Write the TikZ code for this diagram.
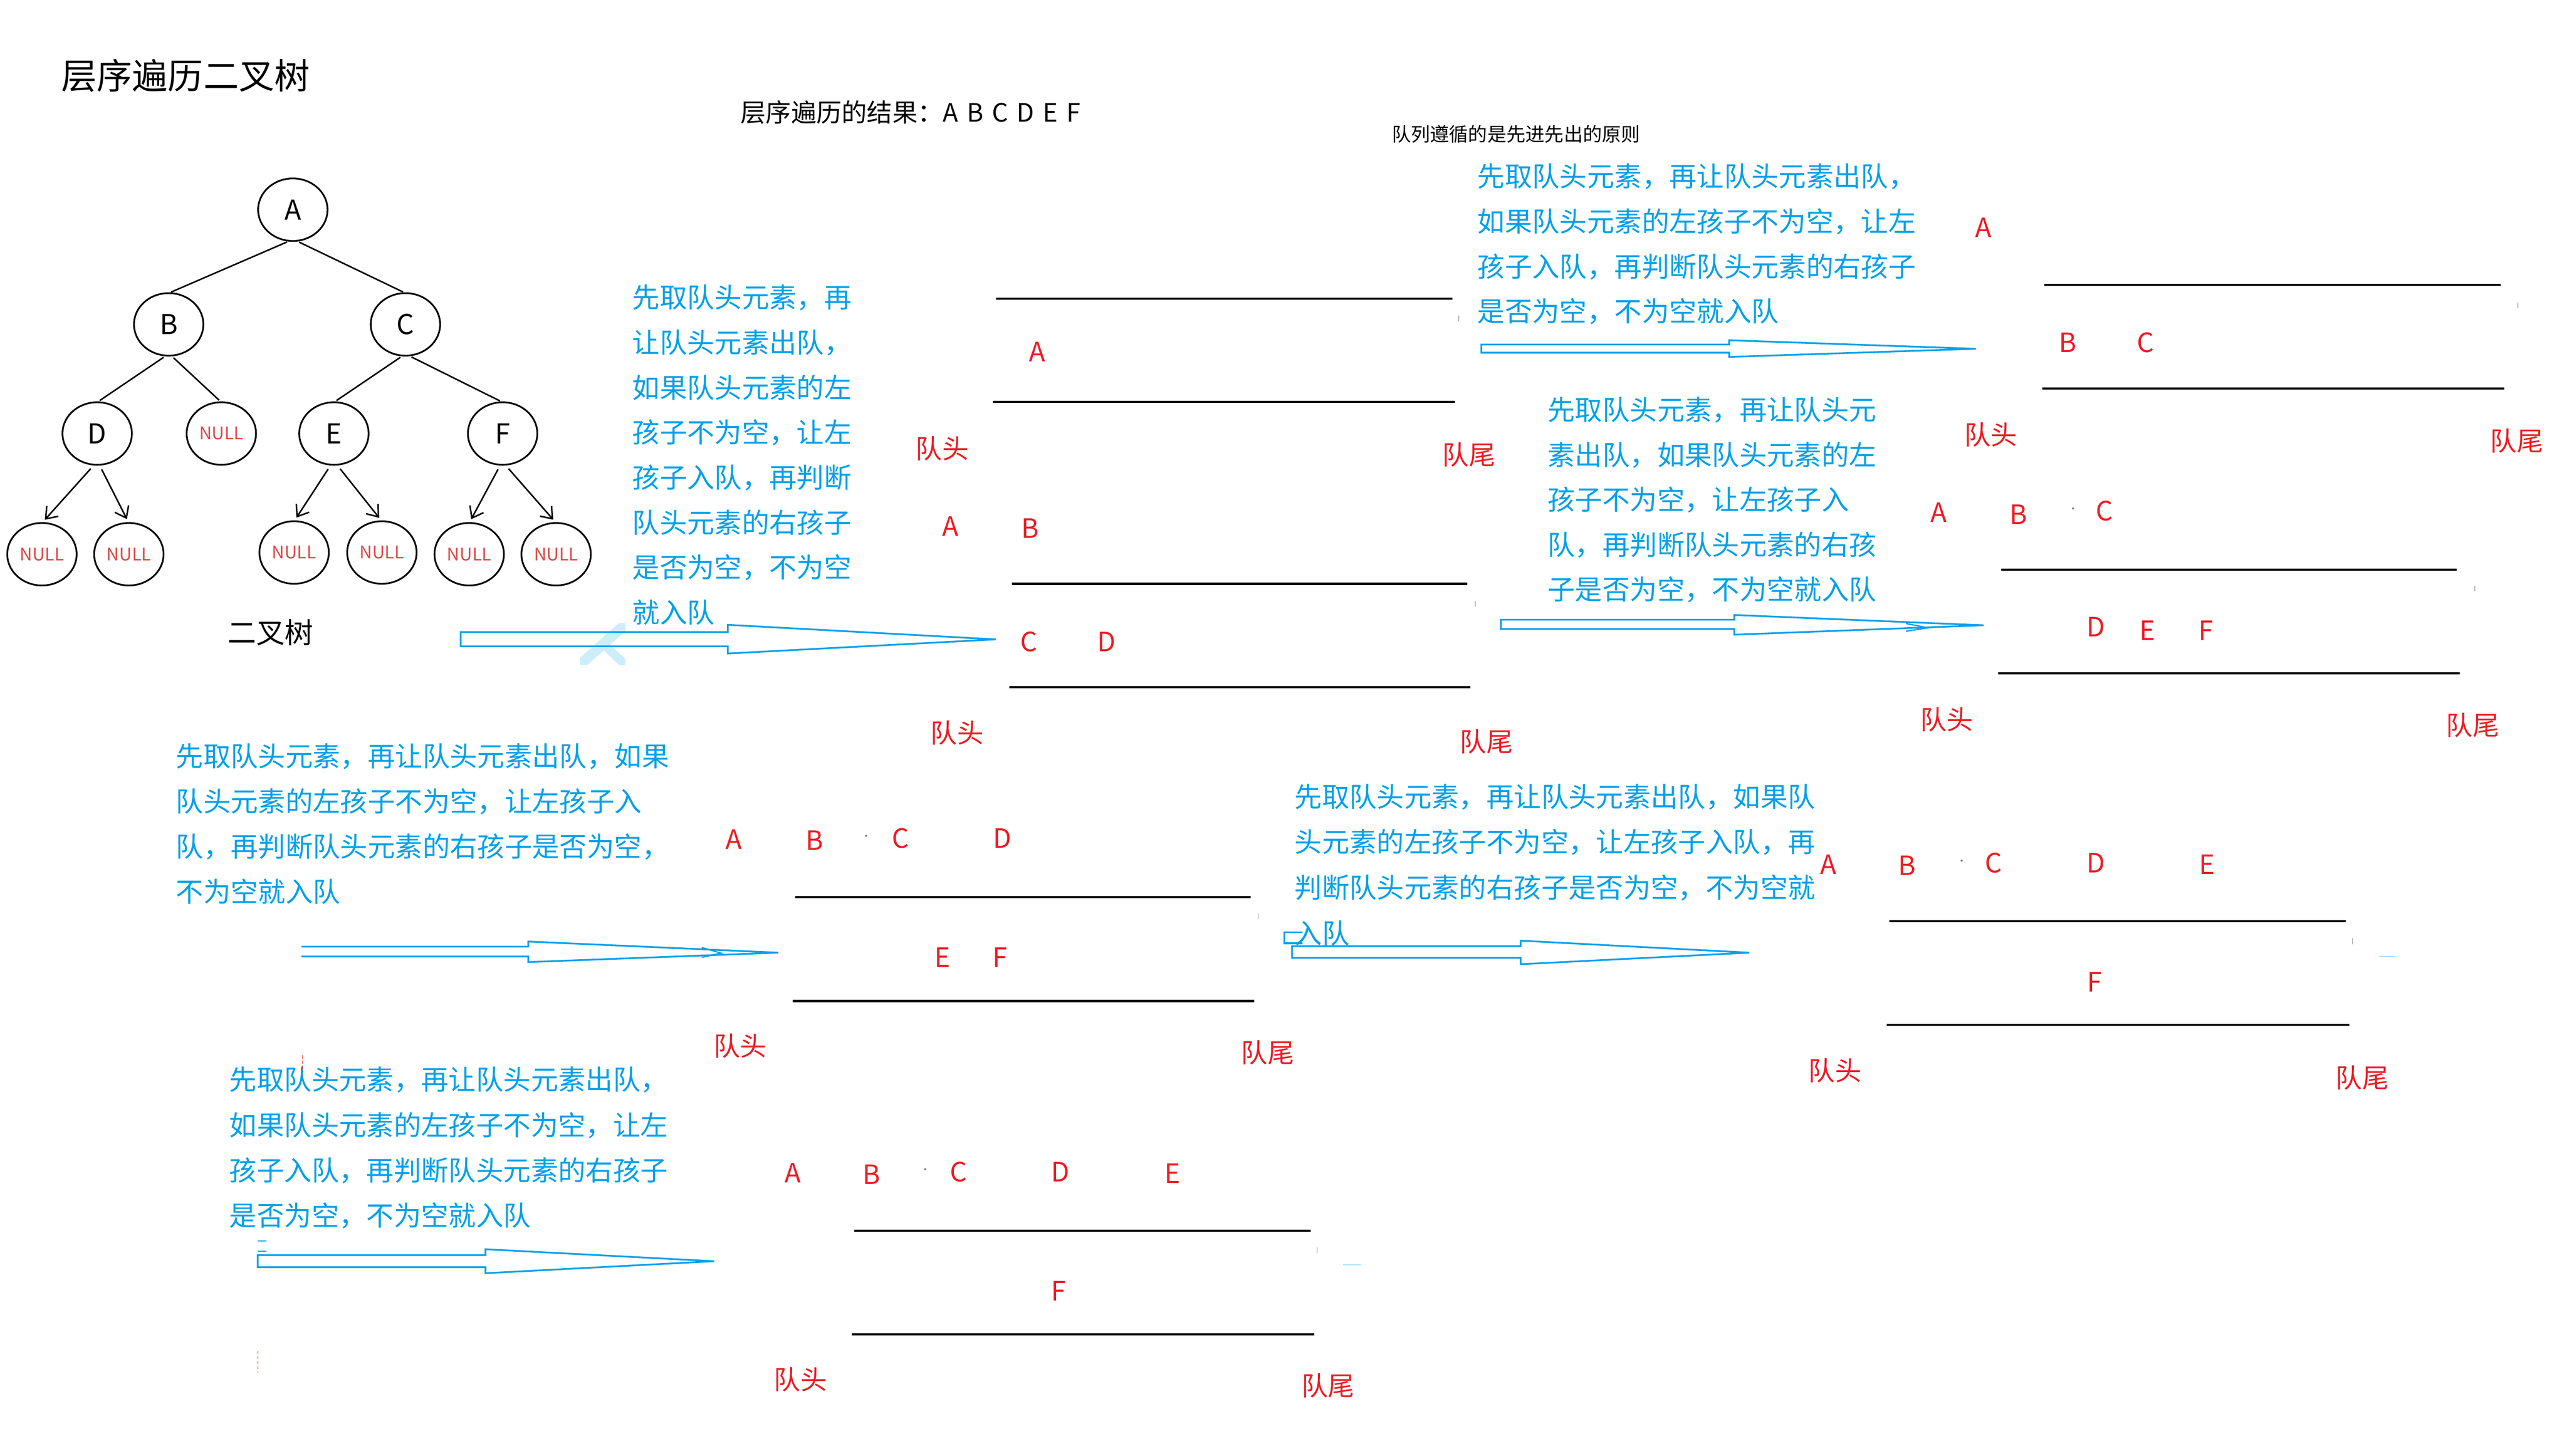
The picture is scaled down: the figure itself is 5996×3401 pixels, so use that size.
\documentclass[tikz,border=0pt]{standalone}
\usepackage{fontspec}
\setmainfont{Noto Sans CJK SC}
\usetikzlibrary{shapes.geometric,arrows.meta}
\definecolor{qblue}{RGB}{0,160,233}
\definecolor{qred}{RGB}{237,28,36}
\definecolor{nullred}{RGB}{222,70,70}
\definecolor{lightmark}{RGB}{204,238,250}
\newcommand{\fsz}[1]{\fontsize{#1}{#1}\selectfont}
\newcommand{\lsp}{\hspace{0.34em}}
\begin{document}
\begin{tikzpicture}[x=0.01cm,y=-0.01cm,
  every node/.style={inner sep=0pt, outer sep=0pt},
  treenode/.style={ellipse, draw=black, line width=0.04cm, minimum width=1.62cm, minimum height=1.46cm, font=\fsz{18.2pt}},
  nullnode/.style={treenode, text=nullred, font=\fsz{11.6pt}},
  treeedge/.style={line width=0.035cm},
  treearrow/.style={line width=0.035cm, -{Straight Barb[length=0.24cm,width=0.36cm]}},
  bluetxt/.style={text=qblue, font=\fsz{18.2pt}, anchor=west},
  qletter/.style={text=qred, font=\fsz{17.7pt}},
  qlabel/.style={text=qred, font=\fsz{17.6pt}},
  qline/.style={line width=0.05cm, black},
  barrow/.style={draw=qblue, line width=0.04cm, line join=miter},
  tick/.style={line width=0.012cm, gray}
]
\fill[white] (0,0) rectangle (5996,3401);
\useasboundingbox (0,0) rectangle (5996,3401);

% titles
\node[anchor=west, font=\fsz{23.6pt}] (title) at (143,177) {层序遍历二叉树};
\node[anchor=west, font=\fsz{16.8pt}] (result) at (1730,262) {层序遍历的结果：A\lsp B\lsp C\lsp D\lsp E\lsp F};
\node[anchor=west, font=\fsz{12.7pt}] (rule) at (3251,313) {队列遵循的是先进先出的原则};

% tree
\node[treenode] (A) at (684,490) {A};
\node[treenode] (B) at (394,758) {B};
\node[treenode] (C) at (947,758) {C};
\node[treenode] (D) at (227,1013) {D};
\node[nullnode] (N1) at (517,1013) {NULL};
\node[treenode] (E) at (780,1013) {E};
\node[treenode] (F) at (1174,1013) {F};
\node[nullnode] (L1) at (98,1295) {NULL};
\node[nullnode] (L2) at (301,1295) {NULL};
\node[nullnode] (L3) at (687,1291) {NULL};
\node[nullnode] (L4) at (892,1291) {NULL};
\node[nullnode] (L5) at (1096,1295) {NULL};
\node[nullnode] (L6) at (1299,1295) {NULL};
\node[font=\fsz{19pt}] (treelabel) at (632,1478) {二叉树};

\draw[treeedge, shorten <=0.06cm, shorten >=0.06cm] ([xshift=-0.08cm]A.south) -- (B.north);
\draw[treeedge, shorten <=0.06cm, shorten >=0.06cm] ([xshift=0.09cm]A.south) -- (C.north);
\draw[treeedge, shorten <=0.07cm, shorten >=0.07cm] ([xshift=-0.06cm]B.south) -- (D.north);
\draw[treeedge, shorten <=0.07cm, shorten >=0.07cm] ([xshift=0.06cm]B.south) -- (N1.north);
\draw[treeedge, shorten <=0.07cm, shorten >=0.07cm] ([xshift=-0.06cm]C.south) -- (E.north);
\draw[treeedge, shorten <=0.07cm, shorten >=0.07cm] ([xshift=0.08cm]C.south) -- (F.north);
\draw[treearrow, shorten <=0.12cm, shorten >=0.1cm] ([xshift=-0.07cm]D.south) -- (L1.north);
\draw[treearrow, shorten <=0.12cm, shorten >=0.1cm] ([xshift=0.05cm]D.south) -- (L2.north);
\draw[treearrow, shorten <=0.12cm, shorten >=0.1cm] ([xshift=-0.07cm]E.south) -- (L3.north);
\draw[treearrow, shorten <=0.12cm, shorten >=0.1cm] ([xshift=0.07cm]E.south) -- (L4.north);
\draw[treearrow, shorten <=0.12cm, shorten >=0.1cm] ([xshift=-0.05cm]F.south) -- (L5.north);
\draw[treearrow, shorten <=0.12cm, shorten >=0.1cm] ([xshift=0.06cm]F.south) -- (L6.north);

% faint mark
\begin{scope}
  \clip (1355,1457) rectangle (1461,1553);
  \draw[lightmark, line width=0.24cm] (1472,1448) -- (1345,1562);
  \draw[lightmark, line width=0.2cm] (1412,1508) -- (1470,1562);
\end{scope}

% blue explanation blocks
\foreach \t [count=\i] in {先取队头元素，再,让队头元素出队，,如果队头元素的左,孩子不为空，让左,孩子入队，再判断,队头元素的右孩子,是否为空，不为空,就入队}
  \node[bluetxt] (ba\i) at (1477,{696+105*(\i-1)}) {\t};
\foreach \t [count=\i] in {先取队头元素，再让队头元素出队，,如果队头元素的左孩子不为空，让左,孩子入队，再判断队头元素的右孩子,是否为空，不为空就入队}
  \node[bluetxt] (bb\i) at (3451,{413+105*(\i-1)}) {\t};
\foreach \t [count=\i] in {先取队头元素，再让队头元,素出队，如果队头元素的左,孩子不为空，让左孩子入,队，再判断队头元素的右孩,子是否为空，不为空就入队}
  \node[bluetxt] (bc\i) at (3615,{958+105*(\i-1)}) {\t};
\foreach \t [count=\i] in {先取队头元素，再让队头元素出队，如果,队头元素的左孩子不为空，让左孩子入,队，再判断队头元素的右孩子是否为空，,不为空就入队}
  \node[bluetxt] (bd\i) at (411,{1768+105*(\i-1)}) {\t};
\foreach \t [count=\i] in {先取队头元素，再让队头元素出队，如果队,头元素的左孩子不为空，让左孩子入队，再,判断队头元素的右孩子是否为空，不为空就,入队}
  \node[bluetxt] (be\i) at (3024,{1862+106*(\i-1)}) {\t};
\foreach \t [count=\i] in {先取队头元素，再让队头元素出队，,如果队头元素的左孩子不为空，让左,孩子入队，再判断队头元素的右孩子,是否为空，不为空就入队}
  \node[bluetxt] (bf\i) at (536,{2523+106*(\i-1)}) {\t};
\draw[qblue, line width=0.04cm] (3042,2178) -- (3000,2178) -- (3000,2204) -- (3042,2204);

% block arrows
\draw[barrow] (1076,1477) -- (1700,1477) -- (1700,1460) -- (2326,1494) -- (1700,1527) -- (1700,1510) -- (1076,1510) -- cycle;
\draw[barrow] (3460,805) -- (4039,805) -- (4039,795) -- (4615,815) -- (4039,834) -- (4039,824) -- (3460,824) -- cycle;
\draw[barrow] (3506,1448) -- (4051,1448) -- (4051,1437) -- (4633,1461) -- (4051,1483) -- (4051,1470) -- (3506,1470) -- cycle;
\draw[qblue, line width=0.03cm] (4452,1457) -- (4504,1467) -- (4452,1475);
\draw[barrow] (704,2212) -- (1234,2212) -- (1234,2200) -- (1818,2226) -- (1234,2248) -- (1234,2235) -- (704,2235);
\draw[qblue, line width=0.03cm] (1639,2214) -- (1684,2227) -- (1639,2237);
\draw[barrow] (3018,2211) -- (3552,2211) -- (3552,2198) -- (4086,2226) -- (3552,2253) -- (3552,2238) -- (3018,2238) -- cycle;
\draw[barrow] (602,2933) -- (1134,2933) -- (1134,2919) -- (1668,2947) -- (1134,2975) -- (1134,2961) -- (602,2961) -- cycle;

% queue 1
\draw[qline] (2326,698) -- (3392,698);
\draw[qline] (2319,939) -- (3399,939);
\node[qletter] (q1a) at (2423,822) {A};
\node[qlabel] (q1h) at (2201,1048) {队头};
\node[qlabel] (q1t) at (3431,1063) {队尾};

% queue 2
\node[qletter] (q2a) at (2220,1230) {A};
\node[qletter] (q2b) at (2406,1234) {B};
\draw[qline] (2364,1364) -- (3427,1364);
\node[qletter] (q2c) at (2403,1499) {C};
\node[qletter] (q2d) at (2585,1499) {D};
\draw[qline] (2357,1606) -- (3435,1606);
\node[qlabel] (q2h) at (2236,1713) {队头};
\node[qlabel] (q2t) at (3472,1733) {队尾};

% queue 3
\node[qletter] (q3a) at (4633,532) {A};
\draw[qline] (4775,666) -- (5841,666);
\node[qletter] (q3b) at (4830,800) {B};
\node[qletter] (q3c) at (5011,800) {C};
\draw[qline] (4770,908) -- (5850,908);
\node[qlabel] (q3h) at (4650,1016) {队头};
\node[qlabel] (q3t) at (5879,1030) {队尾};

% queue 4
\node[qletter] (q4a) at (4529,1197) {A};
\node[qletter] (q4b) at (4715,1202) {B};
\node[qletter] (q4c) at (4916,1194) {C};
\draw[qline] (4675,1331) -- (5738,1331);
\node[qletter] (q4d) at (4896,1465) {D};
\node[qletter] (q4e) at (5016,1473) {E};
\node[qletter] (q4f) at (5153,1473) {F};
\draw[qline] (4667,1573) -- (5745,1573);
\node[qlabel] (q4h) at (4547,1681) {队头};
\node[qlabel] (q4t) at (5776,1695) {队尾};

% queue 5
\node[qletter] (q5a) at (1714,1961) {A};
\node[qletter] (q5b) at (1902,1964) {B};
\node[qletter] (q5c) at (2104,1959) {C};
\node[qletter] (q5d) at (2341,1959) {D};
\draw[qline] (1857,2096) -- (2921,2096);
\node[qletter] (q5e) at (2202,2237) {E};
\node[qletter] (q5f) at (2336,2237) {F};
\draw[qline] (1852,2339) -- (2930,2339);
\node[qlabel] (q5h) at (1729,2444) {队头};
\node[qlabel] (q5t) at (2961,2460) {队尾};

% queue 6
\node[qletter] (q6a) at (4271,2020) {A};
\node[qletter] (q6b) at (4455,2023) {B};
\node[qletter] (q6c) at (4656,2017) {C};
\node[qletter] (q6d) at (4896,2017) {D};
\node[qletter] (q6e) at (5155,2020) {E};
\draw[qline] (4413,2153) -- (5479,2153);
\node[qletter] (q6f) at (4892,2295) {F};
\draw[qline] (4407,2395) -- (5487,2395);
\node[qlabel] (q6h) at (4286,2502) {队头};
\node[qlabel] (q6t) at (5518,2518) {队尾};

% queue 7
\node[qletter] (q7a) at (1852,2741) {A};
\node[qletter] (q7b) at (2036,2744) {B};
\node[qletter] (q7c) at (2239,2738) {C};
\node[qletter] (q7d) at (2477,2738) {D};
\node[qletter] (q7e) at (2739,2742) {E};
\draw[qline] (1996,2876) -- (3061,2876);
\node[qletter] (q7f) at (2473,3017) {F};
\draw[qline] (1989,3118) -- (3070,3118);
\node[qlabel] (q7h) at (1870,3223) {队头};
\node[qlabel] (q7t) at (3102,3238) {队尾};

% small stray marks
\draw[tick] (3408,737) -- (3408,751);
\draw[tick] (3446,1404) -- (3446,1418);
\draw[tick] (5881,708) -- (5881,720);
\draw[tick] (5781,1370) -- (5781,1382);
\draw[tick] (2939,2135) -- (2939,2148);
\draw[tick] (5495,2192) -- (5495,2206);
\draw[tick] (3077,2914) -- (3077,2929);
\draw[lightmark!60!qblue, line width=0.01cm] (5557,2234) -- (5595,2234);
\draw[lightmark!60!qblue, line width=0.01cm] (3137,2955) -- (3179,2955);
\fill[gray] (4842,1188) circle (0.025cm);
\fill[gray] (2023,1953) circle (0.025cm);
\fill[gray] (4582,2011) circle (0.025cm);
\fill[gray] (2161,2732) circle (0.025cm);
\draw[qred, line width=0.012cm, dash pattern=on 0.08cm off 0.04cm] (707,2466) -- (707,2505);
\draw[qred, line width=0.012cm, dash pattern=on 0.08cm off 0.04cm] (602,3156) -- (602,3208);
\draw[qblue, line width=0.02cm] (602,2900) -- (622,2900);
\draw[qblue, line width=0.02cm] (602,2924) -- (622,2924);
\end{tikzpicture}
\end{document}
